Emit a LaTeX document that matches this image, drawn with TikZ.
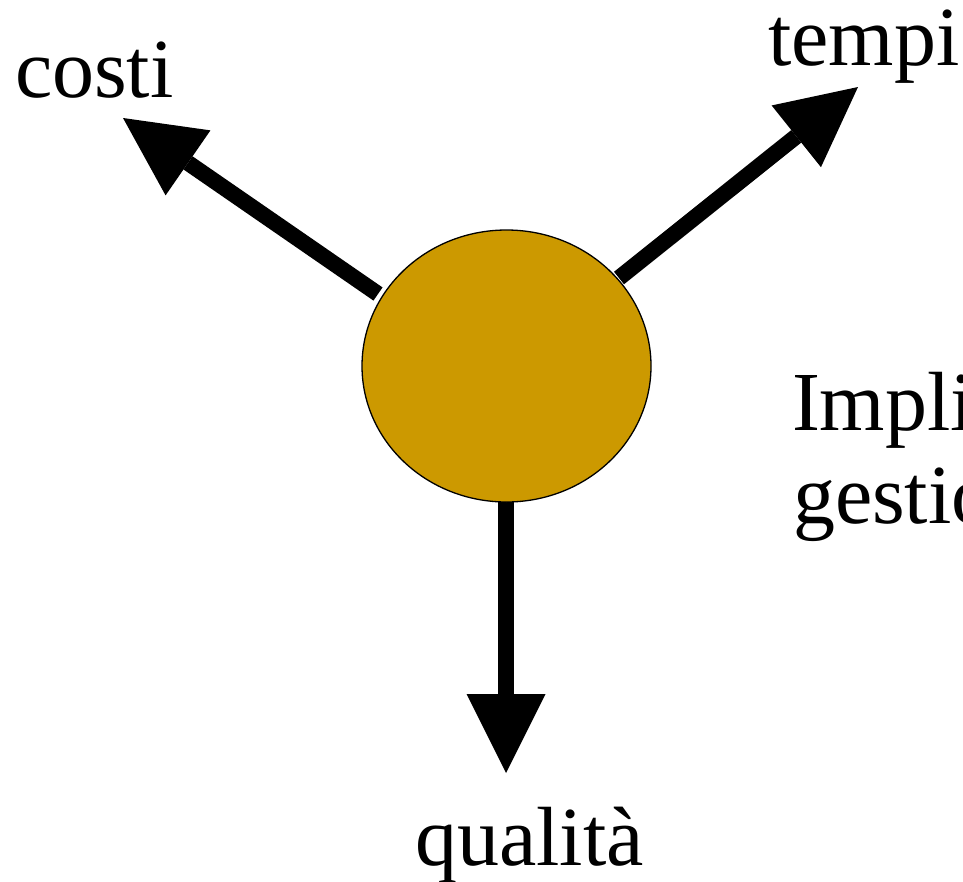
\documentclass[tikz,border=0pt]{standalone}
\usepackage{fontspec}
\setmainfont{Liberation Serif}
\usetikzlibrary{arrows.meta,shapes.geometric}
\definecolor{gold}{HTML}{CC9900}
\begin{document}
\begin{tikzpicture}[x=1pt,y=-1pt,
  lbl/.style={anchor=base west,inner sep=0pt,outer sep=0pt,font=\fontsize{84}{93}\selectfont},
  bigarrow/.style={line width=16pt,line cap=butt,-{Triangle[length=79pt,width=79pt,line width=0pt]}}]
\path[use as bounding box] (0,0) rectangle (963,881);
\clip (0,0) rectangle (963,881);
\coordinate (cs) at (378,294);
\coordinate (ct) at (123,118);
\coordinate (ts) at (619,278);
\coordinate (tt) at (858,87);
\coordinate (qs) at (506,495);
\coordinate (qt) at (506,773);
\draw[bigarrow] (cs) -- (ct);
\draw[bigarrow] (ts) -- (tt);
\draw[bigarrow] (qs) -- (qt);
\node[ellipse,draw=black,line width=1.3pt,fill=gold,minimum width=289pt,minimum height=272pt,inner sep=0pt] (c) at (506.5,366) {};
\node[lbl] (costi) at (15,97) {costi};
\node[lbl] (tempi) at (768,65) {tempi};
\node[lbl] (qual) at (415,865) {qualità};
\node[lbl] (impl) at (792,430) {Impli};
\node[lbl] (gest) at (793,523) {gestio};
\end{tikzpicture}
\end{document}
